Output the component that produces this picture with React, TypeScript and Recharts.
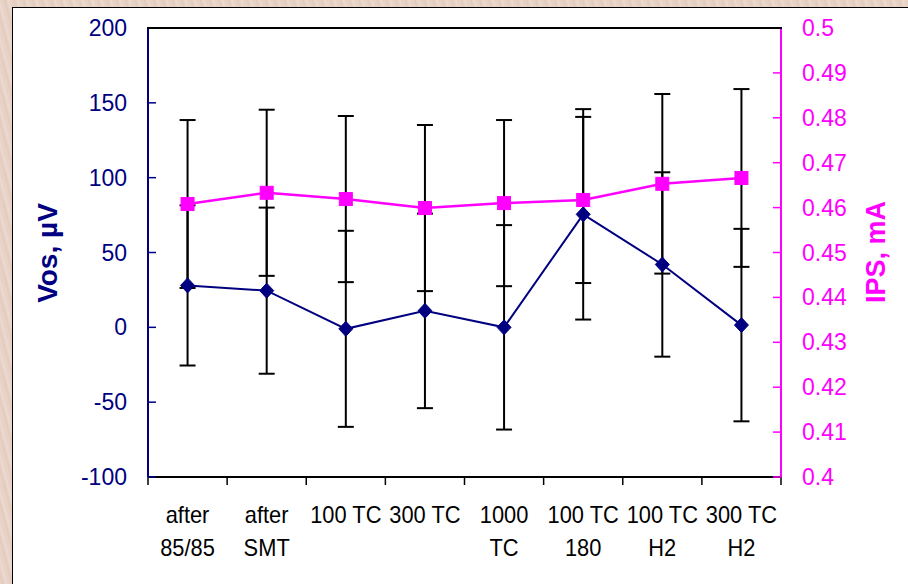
import {
  ComposedChart, Line, XAxis, YAxis, ErrorBar,
} from 'recharts';

// categories (wrapped the way the original axis wraps them)
const categories: string[][] = [
  ['after', '85/85'],
  ['after', 'SMT'],
  ['100 TC'],
  ['300 TC'],
  ['1000', 'TC'],
  ['100 TC', '180'],
  ['100 TC', 'H2'],
  ['300 TC', 'H2'],
];

// Vos, µV and its error (±)
const vos = [28, 24.5, -1, 11, 0, 75.5, 42, 1.5];
const vosErr = [53.5, 55.5, 65.5, 65, 68.3, 70.3, 61.6, 64.3];

// IPS, mA and its error (±)
const ips = [0.4608, 0.4633, 0.4619, 0.4599, 0.461, 0.4617, 0.4653, 0.4666];
const ipsErr = [0.0187, 0.0185, 0.0185, 0.0185, 0.0185, 0.0185, 0.02, 0.0198];

const vosTicks = [-100, -50, 0, 50, 100, 150, 200];
const ipsTicks = [0.4, 0.41, 0.42, 0.43, 0.44, 0.45, 0.46, 0.47, 0.48, 0.49, 0.5];

const data = categories.map((c, i) => ({
  name: c.join(' '),
  vos: vos[i],
  vosErr: vosErr[i],
  ips: ips[i],
  ipsErr: ipsErr[i],
}));

const NAVY = '#000080';
const PINK = '#FF00FF';
const FONT = '"Liberation Sans", Arial, sans-serif';

// plot box in page pixels
const LEFT = 148;
const RIGHT = 781;
const TOP = 28;
const BOTTOM = 477;
const BAND = (RIGHT - LEFT) / categories.length;

const LeftTick = ({ y, payload }: any) => (
  <g>
    <line x1={LEFT} x2={LEFT + 8} y1={y} y2={y} stroke={NAVY} strokeWidth={1.5} />
    <text x={127} y={y} dy={8} textAnchor="end" fill={NAVY} fontSize={23} fontFamily={FONT}>
      {payload.value}
    </text>
  </g>
);

const RightTick = ({ y, payload }: any) => (
  <g>
    <line x1={RIGHT - 8} x2={RIGHT} y1={y} y2={y} stroke={PINK} strokeWidth={1.5} />
    <text x={802} y={y} dy={8} textAnchor="start" fill={PINK} fontSize={23} fontFamily={FONT}>
      {String(+Number(payload.value).toFixed(2))}
    </text>
  </g>
);

const CatTick = ({ x, index }: any) => {
  const lines = categories[index] || [];
  const last = index === categories.length - 1;
  return (
    <g>
      <line x1={x - BAND / 2} x2={x - BAND / 2} y1={BOTTOM} y2={BOTTOM + 8} stroke="#000" strokeWidth={1.5} />
      {last && (
        <line x1={x + BAND / 2} x2={x + BAND / 2} y1={BOTTOM} y2={BOTTOM + 8} stroke="#000" strokeWidth={1.5} />
      )}
      {lines.map((t, k) => (
        <text
          key={k}
          x={x}
          y={523 + k * 33}
          textAnchor="middle"
          fill="#000"
          fontSize={23}
          fontFamily={FONT}
          transform={`translate(${x},0) scale(0.95,1) translate(${-x},0)`}
        >
          {t}
        </text>
      ))}
    </g>
  );
};

const Diamond = ({ cx, cy }: any) => (
  <path d={`M${cx},${cy - 7.5}L${cx + 7},${cy}L${cx},${cy + 7.5}L${cx - 7},${cy}Z`} fill={NAVY} stroke={NAVY} />
);

const Square = ({ cx, cy }: any) => (
  <rect x={cx - 6.5} y={cy - 6.5} width={13} height={13} fill={PINK} stroke={PINK} />
);

export default function App() {
  return (
    <div
      style={{
        position: 'absolute', left: 0, top: 0, width: 908, height: 584, overflow: 'hidden',
        background: 'repeating-linear-gradient(75deg, #e9d5c9 0px, #e3cbbd 3px, #ecdad0 6px, #e6cfc2 9px)',
      }}
    >
      <div
        style={{
          position: 'absolute', left: 12, top: 7, width: 920, height: 600,
          background: '#fff', borderLeft: '1px solid #000', borderTop: '1px solid #000',
        }}
      />
      <div style={{ position: 'absolute', left: 0, top: 0 }}>
        <ComposedChart
          width={908}
          height={584}
          data={data}
          margin={{ top: TOP, left: 48, right: 27, bottom: 27 }}
        >
          <XAxis
            dataKey="name"
            scale="band"
            interval={0}
            height={80}
            axisLine={{ stroke: '#000', strokeWidth: 2 }}
            tickLine={false}
            tick={<CatTick />}
          />
          <YAxis
            yAxisId="vos"
            width={100}
            domain={[-100, 200]}
            ticks={vosTicks}
            allowDataOverflow
            axisLine={{ stroke: NAVY, strokeWidth: 2 }}
            tickLine={false}
            tick={<LeftTick />}
          />
          <YAxis
            yAxisId="ips"
            orientation="right"
            width={100}
            domain={[0.4, 0.5]}
            ticks={ipsTicks}
            allowDataOverflow
            axisLine={{ stroke: PINK, strokeWidth: 2 }}
            tickLine={false}
            tick={<RightTick />}
          />
          <Line
            yAxisId="vos"
            dataKey="vos"
            stroke={NAVY}
            strokeWidth={2}
            dot={<Diamond />}
            activeDot={false}
            isAnimationActive={false}
          >
            <ErrorBar dataKey="vosErr" direction="y" width={8} stroke="#000" strokeWidth={2} isAnimationActive={false} />
          </Line>
          <Line
            yAxisId="ips"
            dataKey="ips"
            stroke={PINK}
            strokeWidth={2.5}
            dot={<Square />}
            activeDot={false}
            isAnimationActive={false}
          >
            <ErrorBar dataKey="ipsErr" direction="y" width={8} stroke="#000" strokeWidth={2} isAnimationActive={false} />
          </Line>
          <text
            x={57}
            y={253}
            transform="rotate(-90, 57, 253)"
            textAnchor="middle"
            fill={NAVY}
            fontSize={28}
            fontWeight="bold"
            fontFamily={FONT}
          >
            Vos, µV
          </text>
          <text
            x={885}
            y={252}
            transform="rotate(-90, 885, 252)"
            textAnchor="middle"
            fill={PINK}
            fontSize={27}
            fontWeight="bold"
            fontFamily={FONT}
          >
            IPS, mA
          </text>
        </ComposedChart>
      </div>
      {/* top edge of the plot box, painted above the chart */}
      <div
        style={{
          position: 'absolute', left: LEFT - 1, top: TOP - 1, width: RIGHT - LEFT + 2, height: 2,
          background: '#000', zIndex: 5,
        }}
      />
    </div>
  );
}
